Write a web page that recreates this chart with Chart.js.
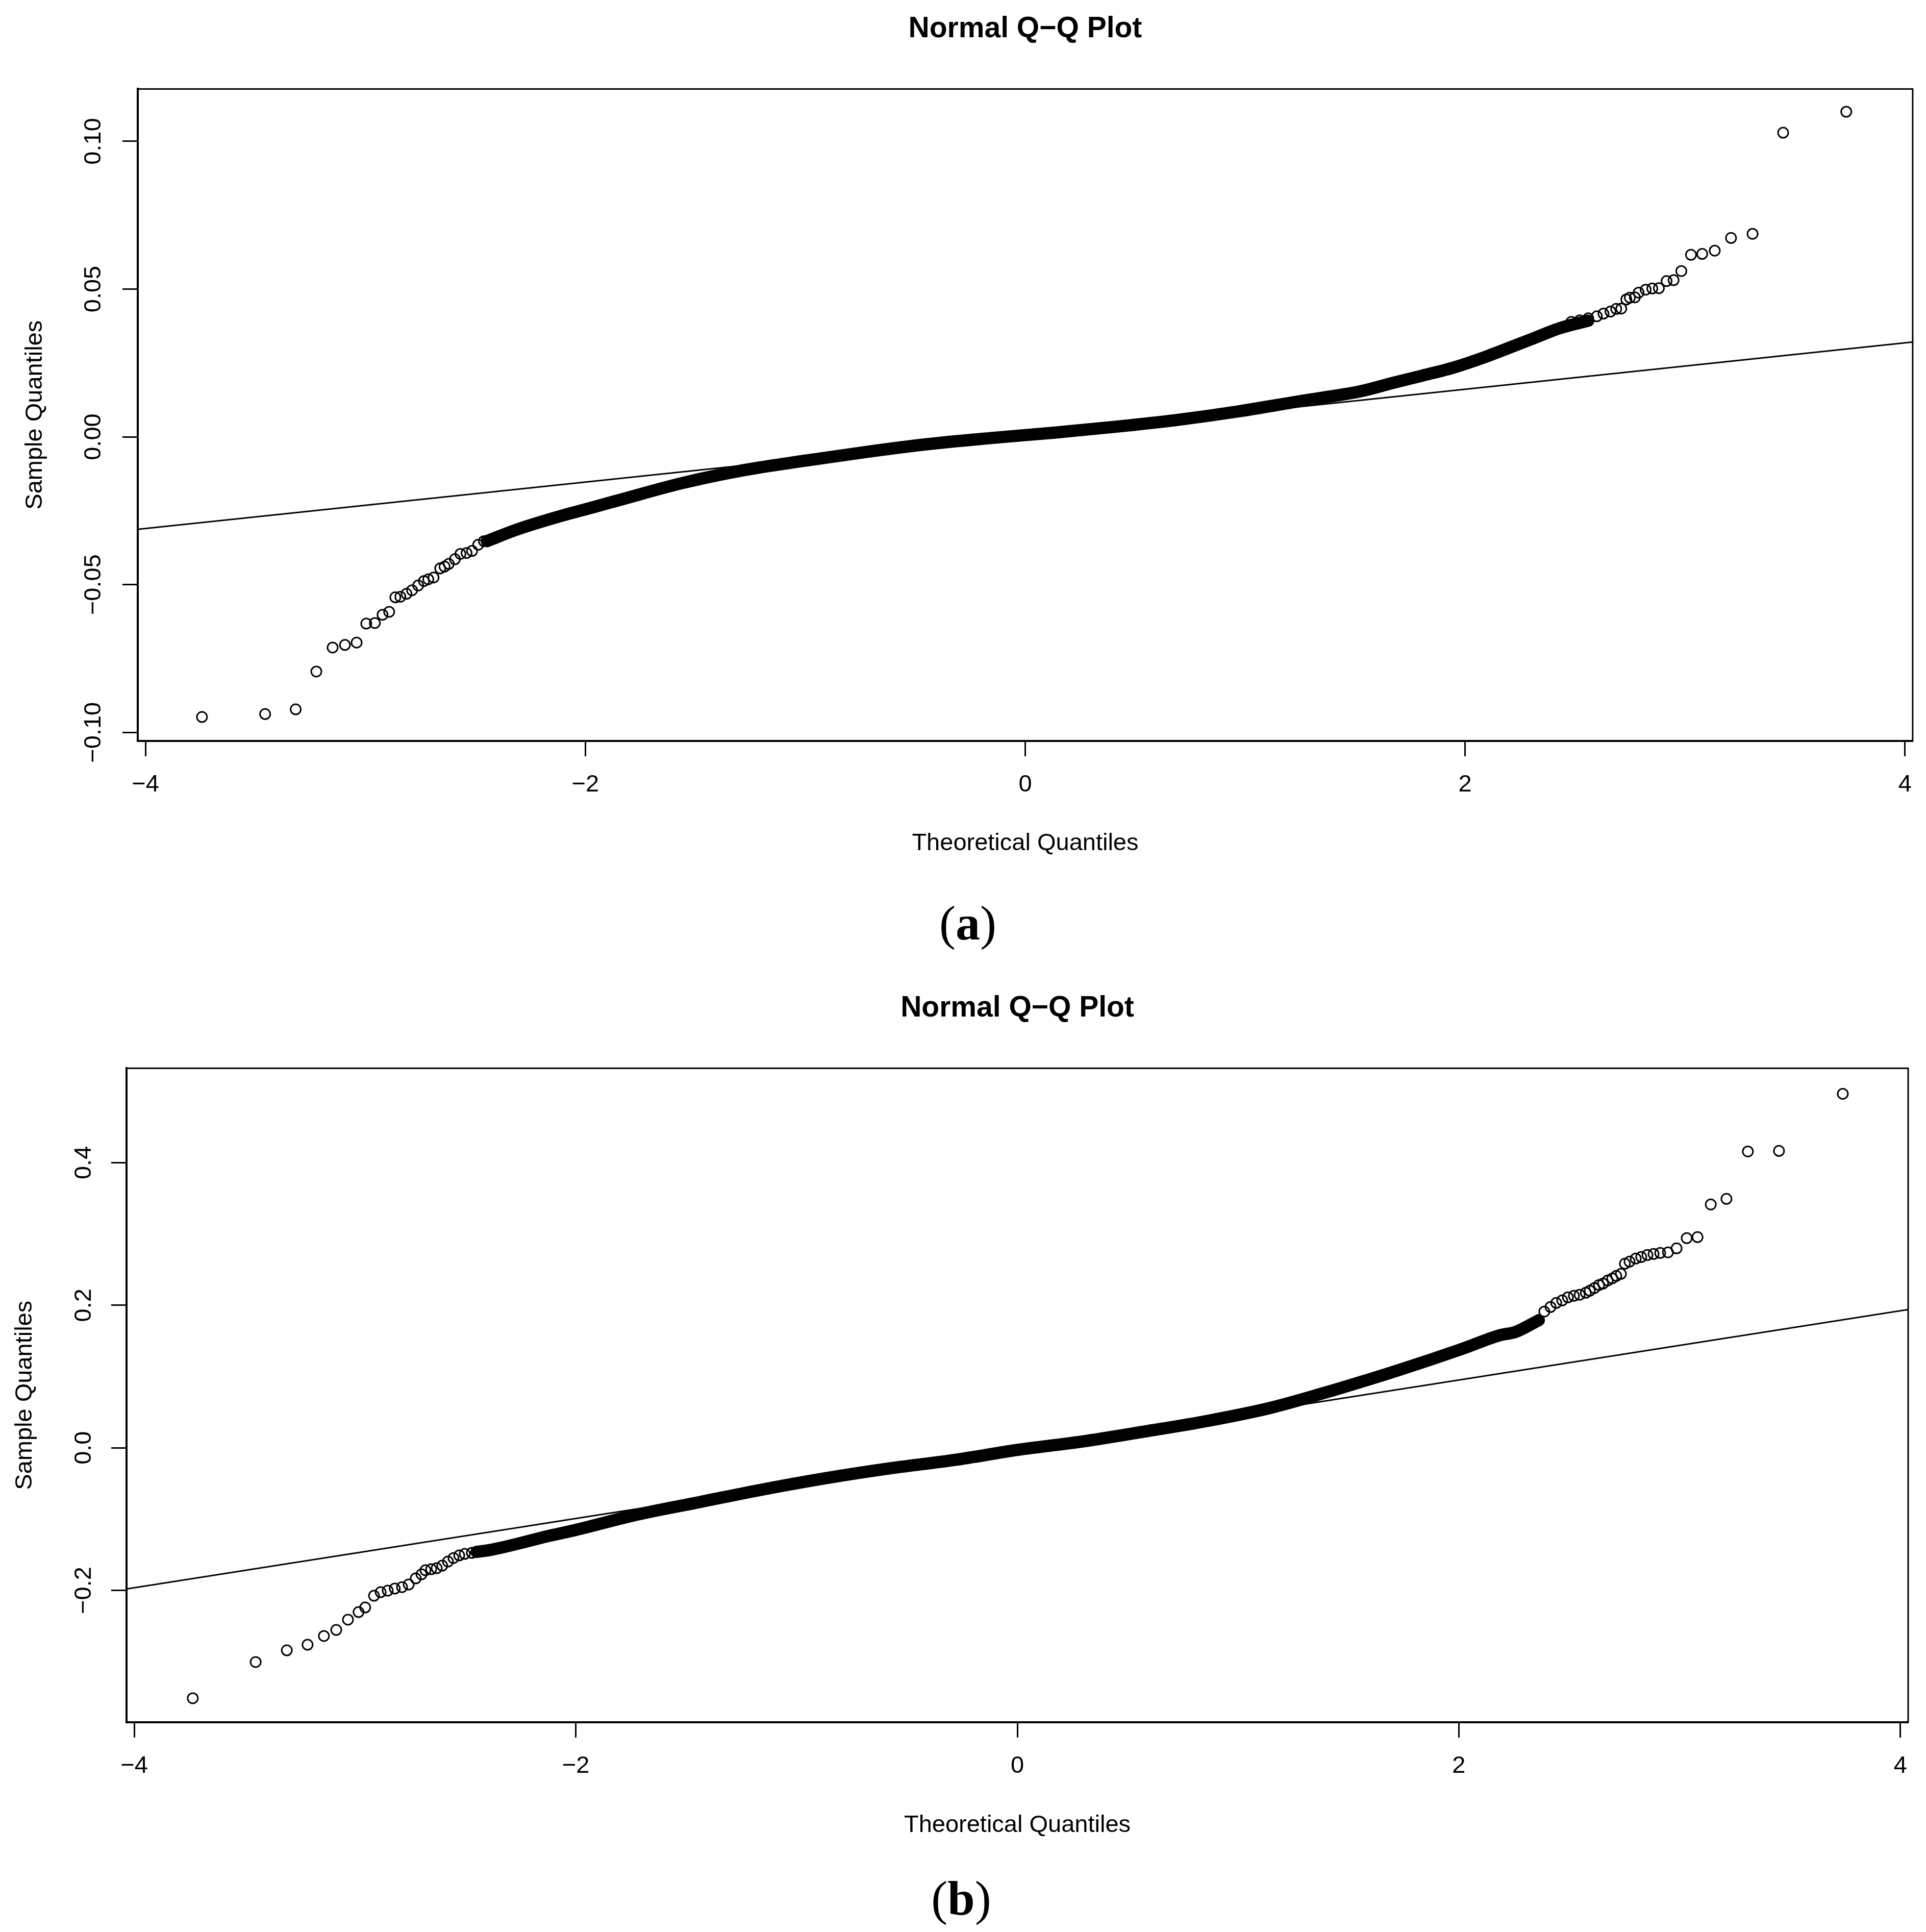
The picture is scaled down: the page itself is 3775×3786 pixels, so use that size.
<!DOCTYPE html>
<html>
<head>
<meta charset="utf-8">
<title>Normal Q-Q Plots</title>
<script src="https://cdn.jsdelivr.net/npm/chart.js@4.4.1/dist/chart.umd.min.js"></script>
<style>
  html, body { margin: 0; padding: 0; background: #fff; }
  body { width: 3775px; height: 3786px; position: relative; overflow: hidden; }
  canvas { position: absolute; left: 0; }
  .cap {
    position: absolute; width: 1000px; text-align: center; color: #000;
    font-family: 'Liberation Serif', 'Times New Roman', serif;
    font-size: 96px; line-height: 96px;
  }
  .cap b { font-weight: bold; }
</style>
</head>
<body>
<canvas id="qqA" width="3775" height="1720" style="top:0px"></canvas>
<div class="cap" style="left:1397px; top:1761px">(<b>a</b>)</div>
<canvas id="qqB" width="3775" height="1724" style="top:1919px"></canvas>
<div class="cap" style="left:1384px; top:3672px">(<b>b</b>)</div>

<script>
// ---- tick labels ----
const xTicks = [-4, -2, 0, 2, 4];
const yTicksA = [-0.10, -0.05, 0, 0.05, 0.10];
const yTicksB = [-0.2, 0, 0.2, 0.4];

// ---- panel (a) ----
// dense middle part of the sample (reads as a solid band)
const bandXA = [-2.448, -2.316, -2.117, -1.959, -1.837, -1.557, -1.274, -0.995, -0.714, -0.435,
                -0.155, 0.128, 0.408, 0.688, 0.968, 1.250, 1.530, 1.669, 1.810, 1.950,
                2.090, 2.175, 2.303, 2.432, 2.560];
const bandYA = [-0.0353, -0.0315, -0.0269, -0.0237, -0.0212, -0.0156, -0.0112, -0.0080, -0.0050, -0.0024,
                -0.0004, 0.0014, 0.0034, 0.0057, 0.0086, 0.0121, 0.0155, 0.0182, 0.0208, 0.0235,
                0.0270, 0.0294, 0.0331, 0.0368, 0.0393];
// single points in the tails
const tailXA = [-3.743, -3.456, -3.317, -3.223, -3.149, -3.093, -3.040, -2.996, -2.957, -2.922,
                -2.892, -2.864, -2.841, -2.813, -2.788, -2.760, -2.734, -2.714, -2.690, -2.660,
                -2.640, -2.621, -2.593, -2.568, -2.540, -2.515, -2.487, -2.461,
                2.483, 2.521, 2.560, 2.599, 2.629, 2.661, 2.687, 2.710, 2.733, 2.749,
                2.772, 2.789, 2.821, 2.851, 2.881, 2.916, 2.948, 2.983, 3.027, 3.078,
                3.135, 3.209, 3.307, 3.446, 3.733];
const tailYA = [-0.0948, -0.0938, -0.0922, -0.0794, -0.0713, -0.0704, -0.0696, -0.0632, -0.0630, -0.0602,
                -0.0592, -0.0543, -0.0541, -0.0531, -0.0519, -0.0503, -0.0488, -0.0482, -0.0476, -0.0445,
                -0.0439, -0.0430, -0.0414, -0.0396, -0.0393, -0.0386, -0.0365, -0.0353,
                0.0389, 0.0394, 0.0401, 0.0408, 0.0417, 0.0424, 0.0433, 0.0434, 0.0465, 0.0471,
                0.0472, 0.0488, 0.0498, 0.0502, 0.0503, 0.0527, 0.0530, 0.0561, 0.0616, 0.0619,
                0.0630, 0.0673, 0.0687, 0.1029, 0.1100];
// qqline end points
const lineXA = [-4.035, 4.035];
const lineYA = [-0.0313, 0.0321];

// ---- panel (b) ----
const bandXB = [-2.450, -2.383, -2.256, -2.128, -2.011, -1.722, -1.435, -1.146, -0.860, -0.573,
                -0.284, 0.002, 0.289, 0.578, 0.864, 1.153, 1.440, 1.726, 2.015, 2.186,
                2.256, 2.362];
const bandYB = [-0.146, -0.143, -0.134, -0.124, -0.116, -0.0937, -0.0759, -0.0580, -0.0422, -0.0286,
                -0.0170, -0.0029, 0.0086, 0.0229, 0.0379, 0.0565, 0.0816, 0.1088, 0.1388, 0.158,
                0.1624, 0.179];
const tailXB = [-3.735, -3.450, -3.309, -3.215, -3.141, -3.085, -3.032, -2.984, -2.954, -2.914,
                -2.884, -2.852, -2.820, -2.787, -2.757, -2.725, -2.699, -2.681, -2.655, -2.630,
                -2.605, -2.579, -2.554, -2.528, -2.503, -2.471,
                2.387, 2.415, 2.441, 2.468, 2.494, 2.521, 2.547, 2.575, 2.593, 2.614,
                2.635, 2.653, 2.674, 2.695, 2.713, 2.734, 2.752, 2.773, 2.801, 2.826,
                2.854, 2.882, 2.912, 2.947, 2.986, 3.032, 3.081, 3.141, 3.212, 3.309,
                3.450, 3.739];
const tailYB = [-0.3513, -0.3005, -0.2841, -0.2762, -0.2640, -0.2555, -0.2411, -0.2304, -0.2240, -0.2075,
                -0.2025, -0.2004, -0.1975, -0.1954, -0.1918, -0.1832, -0.1775, -0.1717, -0.1703, -0.1689,
                -0.1653, -0.1596, -0.1546, -0.1510, -0.1488, -0.1474,
                0.1911, 0.1975, 0.2032, 0.2068, 0.2111, 0.2132, 0.2147, 0.2175, 0.2204, 0.2240,
                0.2283, 0.2304, 0.2347, 0.2376, 0.2411, 0.2440, 0.2583, 0.2612, 0.2655, 0.2676,
                0.2705, 0.2719, 0.2733, 0.2741, 0.2798, 0.2941, 0.2955, 0.3413, 0.3492, 0.4157,
                0.4165, 0.4966];
const lineXB = [-4.035, 4.035];
const lineYB = [-0.198, 0.194];

Chart.defaults.font.family = "'Liberation Sans', Arial, Helvetica, sans-serif";
Chart.defaults.color = '#000';

const zip = (xs, ys) => xs.map((x, i) => ({ x: x, y: ys[i] }));
const fmt = (v, d) => (v < 0 ? '\u2212' : '') + Math.abs(v).toFixed(d);

// R style box round the plot region
const boxPlugin = {
  id: 'box',
  afterDraw(chart) {
    const a = chart.chartArea;
    const ctx = chart.ctx;
    ctx.save();
    ctx.strokeStyle = '#000';
    ctx.lineWidth = 3;
    ctx.strokeRect(a.left, a.top, a.right - a.left, a.bottom - a.top);
    ctx.restore();
  }
};

function makeQQ(id, p) {
  const axisFont = { size: 47 };
  new Chart(document.getElementById(id), {
    type: 'scatter',
    data: {
      datasets: [
        {
          data: zip(p.bandX, p.bandY),
          showLine: true,
          pointRadius: 0,
          borderColor: '#000',
          borderWidth: 24,
          borderCapStyle: 'round',
          borderJoinStyle: 'round',
          cubicInterpolationMode: 'monotone'
        },
        {
          data: zip(p.tailX, p.tailY),
          showLine: false,
          pointRadius: 10,
          pointBorderWidth: 3,
          pointBorderColor: '#000',
          pointBackgroundColor: 'rgba(0,0,0,0)'
        },
        {
          data: zip(p.lineX, p.lineY),
          showLine: true,
          pointRadius: 0,
          borderColor: '#000',
          borderWidth: 3
        }
      ]
    },
    options: {
      responsive: false,
      animation: false,
      layout: { padding: { left: 0, right: p.padRight, top: 0, bottom: 0 } },
      plugins: {
        legend: { display: false },
        tooltip: { enabled: false },
        title: {
          display: true,
          text: 'Normal Q\u2212Q Plot',
          fullSize: false,
          color: '#000',
          font: { size: 57, weight: 'bold' },
          padding: { top: 23, bottom: 83 }
        }
      },
      scales: {
        x: {
          type: 'linear',
          min: -4.035,
          max: 4.035,
          afterFit: s => { s.height = 268; },
          afterBuildTicks: s => { s.ticks = xTicks.map(v => ({ value: v })); },
          ticks: {
            autoSkip: false, maxRotation: 0, padding: 28, font: axisFont, color: '#000',
            callback: v => fmt(v, 0)
          },
          grid: { drawOnChartArea: false, drawTicks: true, tickLength: 30, tickWidth: 3, color: '#000' },
          border: { display: true, color: '#000', width: 4 },
          title: {
            display: true, text: 'Theoretical Quantiles', font: axisFont, color: '#000',
            padding: { top: 0, bottom: p.xTitlePad }
          }
        },
        y: {
          type: 'linear',
          min: p.yMin,
          max: p.yMax,
          afterFit: s => { s.width = p.yWidth; },
          afterBuildTicks: s => { s.ticks = p.yTicks.map(v => ({ value: v })); },
          ticks: {
            autoSkip: false, minRotation: 90, maxRotation: 90, crossAlign: 'center',
            padding: p.yTickPad, font: axisFont, color: '#000',
            callback: v => fmt(v, p.yDec)
          },
          grid: { drawOnChartArea: false, drawTicks: true, tickLength: 30, tickWidth: 3, color: '#000' },
          border: { display: true, color: '#000', width: 4 },
          title: {
            display: true, text: 'Sample Quantiles', font: axisFont, color: '#000',
            padding: { top: p.yTitlePad, bottom: 0 }
          }
        }
      }
    },
    plugins: [boxPlugin]
  });
}

makeQQ('qqA', {
  bandX: bandXA, bandY: bandYA, tailX: tailXA, tailY: tailYA, lineX: lineXA, lineY: lineYA,
  yTicks: yTicksA, yDec: 2, yMin: -0.1029, yMax: 0.1177,
  yWidth: 270, padRight: 19, yTickPad: -4, yTitlePad: 41, xTitlePad: 39
});

makeQQ('qqB', {
  bandX: bandXB, bandY: bandYB, tailX: tailXB, tailY: tailYB, lineX: lineXB, lineY: lineYB,
  yTicks: yTicksB, yDec: 1, yMin: -0.385, yMax: 0.5324,
  yWidth: 248, padRight: 35, yTickPad: 7, yTitlePad: 21, xTitlePad: 38
});
</script>
</body>
</html>
